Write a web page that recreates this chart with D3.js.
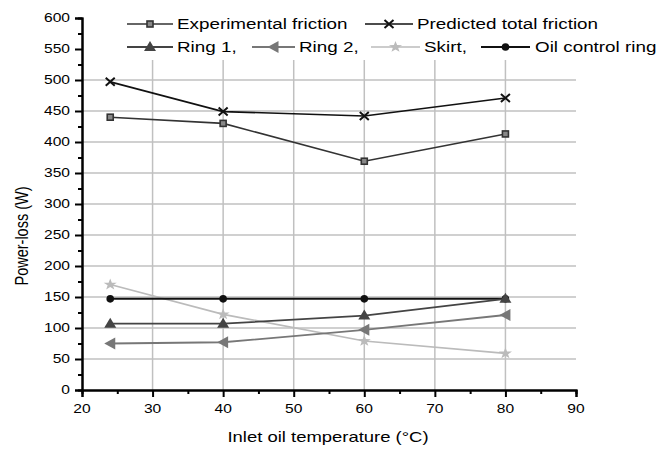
<!DOCTYPE html>
<html><head><meta charset="utf-8">
<script src="https://cdn.jsdelivr.net/npm/d3@7"></script>
<style>html,body{margin:0;padding:0;background:#fff;}svg{display:block;}text{font-family:Arial,"Liberation Sans",sans-serif;fill:#000;}</style>
</head><body>
<svg id="c" width="669" height="449"></svg>
<script>
const temps = [24, 40, 60, 80];
const experimental = [440, 430, 369, 413];
const predicted = [497, 449, 442, 471];
const ring1 = [107, 107, 120, 147];
const ring2 = [75, 77, 97, 121];
const skirt = [170, 122, 79, 59];
const oilRing = [147, 147, 147, 147];
const xTicks = [20, 30, 40, 50, 60, 70, 80, 90];
const yTicks = [0, 50, 100, 150, 200, 250, 300, 350, 400, 450, 500, 550, 600];
const xGrid = [30, 40, 50, 60, 70, 80];
const yGrid = [50, 100, 150, 200, 250, 300, 350, 400, 450, 500];
const xTitle = "Inlet oil temperature (°C)";
const yTitle = "Power-loss (W)";

const series = [
  {name: "Experimental friction", values: experimental, color: "#333", marker: "square", w: 1.6},
  {name: "Predicted total friction", values: predicted, color: "#111", marker: "x", w: 1.6},
  {name: "Ring 1,", values: ring1, color: "#444", marker: "tri", w: 1.8},
  {name: "Ring 2,", values: ring2, color: "#777", marker: "ltri", w: 1.8},
  {name: "Skirt,", values: skirt, color: "#bbb", marker: "star", w: 1.6},
  {name: "Oil control ring", values: oilRing, color: "#111", marker: "circle", w: 2}
];

const SX = 1.3;
const svg = d3.select("#c");
const x = d3.scaleLinear().domain([20, 90]).range([82, 576]);
const y = d3.scaleLinear().domain([0, 600]).range([390, 18]);

// grid
svg.append("g").selectAll("line").data(yGrid).join("line")
  .attr("x1", x(20)).attr("x2", x(90)).attr("y1", d => y(d)).attr("y2", d => y(d))
  .attr("stroke", "#c0c0c0").attr("stroke-width", 1.5);
svg.append("g").selectAll("line").data(xGrid).join("line")
  .attr("x1", d => x(d)).attr("x2", d => x(d)).attr("y1", y(0)).attr("y2", 60)
  .attr("stroke", "#c0c0c0").attr("stroke-width", 1.5);

// axes
const yAxisMajor = d3.axisLeft(y).tickValues(yTicks).tickSize(7).tickFormat("");
const yAxisMinor = d3.axisLeft(y).tickValues(d3.range(25, 600, 50)).tickSize(4).tickFormat("");
const xAxisMajor = d3.axisBottom(x).tickValues(xTicks).tickSize(7).tickFormat("");
const xAxisMinor = d3.axisBottom(x).tickValues(d3.range(25, 90, 10)).tickSize(4).tickFormat("");
function styleAxis(g) { g.select(".domain").attr("stroke", "#000").attr("stroke-width", 2);
  g.selectAll(".tick line").attr("stroke", "#000").attr("stroke-width", 2); }
svg.append("g").attr("transform", `translate(${x(20)},0)`).call(yAxisMinor).call(styleAxis);
svg.append("g").attr("transform", `translate(${x(20)},0)`).call(yAxisMajor).call(styleAxis);
svg.append("g").attr("transform", `translate(0,${y(0)})`).call(xAxisMinor).call(styleAxis);
svg.append("g").attr("transform", `translate(0,${y(0)})`).call(xAxisMajor).call(styleAxis);

function stext(px, py, str, size, anchor) {
  const g = svg.append("g").attr("transform", `translate(${px},${py}) scale(${SX},1)`);
  g.append("text").attr("text-anchor", anchor).attr("font-size", size).text(str);
  return g;
}
yTicks.forEach(v => stext(70, y(v) + 4.3, v, 12, "end"));
xTicks.forEach(v => stext(x(v), 412.5, v, 12, "middle"));
stext(x(55) - 1, 442, xTitle, 14.2, "middle");
svg.append("g").attr("transform", `translate(28,236) scale(${SX},1) rotate(-90)`)
  .append("text").attr("text-anchor", "middle").attr("font-size", 14.5).text(yTitle);

// markers
function drawMarker(g, type, cx, cy, color) {
  if (type === "square") {
    g.append("rect").attr("x", cx - 3).attr("y", cy - 3).attr("width", 6).attr("height", 6)
      .attr("fill", "#888").attr("stroke", color).attr("stroke-width", 1.6);
  } else if (type === "x") {
    g.append("path").attr("d", `M${cx-4.5},${cy-4}L${cx+4.5},${cy+4}M${cx-4.5},${cy+4}L${cx+4.5},${cy-4}`)
      .attr("stroke", color).attr("stroke-width", 2).attr("fill", "none");
  } else if (type === "tri") {
    g.append("path").attr("d", `M${cx},${cy-6}L${cx+6},${cy+4}L${cx-6},${cy+4}Z`).attr("fill", color);
  } else if (type === "ltri") {
    g.append("path").attr("d", `M${cx-6},${cy}L${cx+5},${cy-6}L${cx+5},${cy+6}Z`).attr("fill", color);
  } else if (type === "star") {
    const pts = d3.range(10).map(i => { const a = -Math.PI/2 + i*Math.PI/5; const r = i % 2 ? 2.4 : 6;
      return [cx + r*Math.cos(a)*1.15, cy + r*Math.sin(a)]; });
    g.append("path").attr("d", "M" + pts.join("L") + "Z").attr("fill", color);
  } else if (type === "circle") {
    g.append("circle").attr("cx", cx).attr("cy", cy).attr("r", 3.8).attr("fill", color);
  }
}

const line = d3.line().x(d => x(d[0])).y(d => y(d[1]));
const drawOrder = [4, 3, 5, 2, 0, 1];
drawOrder.forEach(i => {
  const s = series[i];
  const g = svg.append("g");
  const pts = temps.map((t, j) => [t, s.values[j]]);
  g.append("path").attr("d", line(pts)).attr("fill", "none").attr("stroke", s.color).attr("stroke-width", s.w);
  pts.forEach(p => drawMarker(g, s.marker, x(p[0]), y(p[1]), s.color));
});

// legend
const legendPos = [
  {x1: 127, x2: 173, tx: 177, y: 24},
  {x1: 365, x2: 413, tx: 417, y: 24},
  {x1: 127, x2: 173, tx: 177, y: 47},
  {x1: 252, x2: 295, tx: 299, y: 47},
  {x1: 371, x2: 420, tx: 424, y: 47},
  {x1: 481, x2: 530, tx: 535, y: 47}
];
series.forEach((s, i) => {
  const p = legendPos[i];
  const g = svg.append("g");
  g.append("line").attr("x1", p.x1).attr("x2", p.x2).attr("y1", p.y).attr("y2", p.y)
    .attr("stroke", s.color).attr("stroke-width", s.w);
  drawMarker(g, s.marker, (p.x1 + p.x2) / 2, p.y, s.color);
  stext(p.tx, p.y + 5, s.name, 14.5, "start");
});
</script>
</body></html>
